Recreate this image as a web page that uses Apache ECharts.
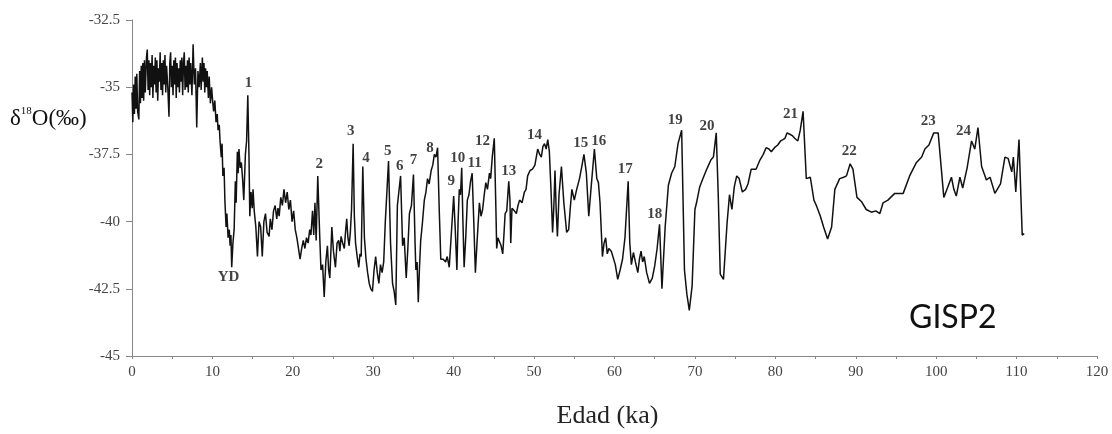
<!DOCTYPE html>
<html>
<head>
<meta charset="utf-8">
<script src="https://cdn.jsdelivr.net/npm/echarts@6/dist/echarts.min.js"></script>
<style>
html,body{margin:0;padding:0;background:#fff;}
#chart{width:1112px;height:434px;}
</style>
</head>
<body>
<div id="chart"></div>
<script>
// Age (ka) and δ18O (‰)
const ageKa = [
0.0,0.1,0.2,0.3,0.4,0.5,0.6,0.7,0.85,0.95,1.05,1.15,1.25,1.35,1.45,1.55,1.65,1.8,1.9,2.0,
2.1,2.2,2.3,2.4,2.5,2.6,2.7,2.8,2.9,3.0,3.1,3.2,3.3,3.4,3.5,3.6,3.7,3.8,3.9,4.0,
4.1,4.2,4.3,4.45,4.6,4.7,4.8,4.9,5.0,5.1,5.2,5.3,5.4,5.5,5.6,5.7,5.8,5.9,6.0,6.1,
6.2,6.3,6.4,6.5,6.6,6.7,6.8,6.9,7.0,7.1,7.2,7.3,7.45,7.6,7.75,7.9,8.05,8.2,8.35,8.5,
8.6,8.75,8.85,8.95,9.05,9.15,9.25,9.35,9.5,9.6,9.75,9.9,10.0,10.15,10.3,10.45,10.6,10.7,10.85,10.95,
11.1,11.2,11.3,11.45,11.55,11.7,11.8,11.95,12.1,12.2,12.3,12.4,12.55,12.7,12.85,12.95,13.1,13.2,13.3,13.45,
13.6,13.75,13.9,14.1,14.25,14.4,14.55,14.65,14.8,14.95,15.05,15.2,15.4,15.6,15.8,16.0,16.2,16.4,16.6,16.8,
17.05,17.2,17.4,17.6,17.8,18.0,18.15,18.3,18.5,18.7,18.9,19.1,19.3,19.5,19.7,19.9,20.1,20.3,20.5,20.7,
20.9,21.1,21.3,21.5,21.7,21.9,22.1,22.25,22.45,22.6,22.75,22.9,23.1,23.35,23.5,23.7,23.9,24.1,24.3,24.45,
24.6,24.85,25.05,25.3,25.5,25.7,25.85,26.0,26.2,26.4,26.55,26.7,26.85,27.0,27.15,27.3,27.5,27.65,27.8,28.0,
28.2,28.35,28.5,28.7,28.9,29.1,29.3,29.5,29.7,29.9,30.1,30.3,30.5,30.7,30.9,31.1,31.3,31.5,31.9,32.15,
32.4,32.6,32.8,33.0,33.4,33.65,33.85,34.1,34.3,34.5,34.75,35.0,35.2,35.3,35.45,35.6,35.75,35.9,36.1,36.35,
36.55,36.75,36.95,37.2,37.4,37.6,37.8,38.0,38.2,38.4,38.7,39.0,39.2,39.45,39.7,40.0,40.2,40.4,40.55,40.7,
40.85,41.0,41.15,41.3,41.5,41.7,41.9,42.1,42.3,42.5,42.7,42.9,43.2,43.4,43.6,43.8,44.0,44.2,44.45,44.6,
44.8,45.05,45.25,45.35,45.5,45.7,45.9,46.1,46.25,46.4,46.6,46.85,47.0,47.1,47.25,47.35,47.55,47.8,48.0,48.2,
48.5,48.8,49.0,49.2,49.5,49.8,50.1,50.45,50.7,50.9,51.1,51.3,51.5,51.7,51.9,52.1,52.3,52.45,52.6,52.75,
52.9,53.1,53.4,53.7,54.05,54.3,54.5,54.7,55.0,55.3,55.65,55.9,56.2,56.5,56.8,57.1,57.5,57.8,58.0,58.2,
58.5,58.7,58.9,59.1,59.3,59.6,59.8,60.1,60.4,60.7,61.0,61.3,61.7,61.9,62.1,62.35,62.6,62.9,63.1,63.3,
63.5,63.7,64.0,64.35,64.7,65.0,65.3,65.6,65.9,66.3,66.7,67.1,67.5,67.9,68.35,68.7,69.0,69.3,69.65,70.0,
70.2,70.6,71.0,71.4,71.7,72.0,72.3,72.65,72.9,73.15,73.55,74.0,74.3,74.6,74.9,75.2,75.5,75.9,76.3,76.6,
77.0,77.6,78.1,78.5,78.85,79.2,79.5,79.9,80.3,80.65,80.95,81.2,81.45,81.8,82.1,82.4,82.8,83.1,83.45,83.85,
84.35,84.8,85.1,85.6,86.0,86.5,87.0,87.4,88.0,88.5,88.85,89.3,89.65,90.15,90.7,91.3,91.95,92.5,93.0,93.4,
94.0,94.85,95.9,96.7,97.55,98.2,98.6,99.1,99.7,100.25,100.95,101.4,101.9,102.2,102.5,102.95,103.3,103.85,104.4,104.8,
105.2,105.65,106.25,106.7,107.3,108.0,108.55,108.95,109.4,109.6,109.9,110.3,110.7,110.95
];
const d18O = [
-35.2,-36.3,-34.9,-36.0,-34.6,-35.8,-34.5,-35.9,-36.2,-34.4,-35.6,-34.2,-35.4,-34.1,-35.5,-34.0,-35.2,-33.9,-33.6,-35.1,
-34.0,-35.3,-34.1,-35.0,-33.8,-35.4,-34.2,-34.9,-33.9,-35.2,-34.0,-35.5,-34.3,-34.8,-33.7,-35.1,-34.1,-35.3,-34.0,-34.9,
-33.8,-35.2,-34.2,-35.0,-36.1,-34.1,-33.7,-35.0,-34.2,-35.3,-34.0,-34.9,-33.9,-35.4,-34.1,-35.0,-34.3,-35.2,-34.0,-34.8,
-33.9,-35.3,-34.1,-33.7,-35.1,-34.2,-35.0,-34.0,-35.2,-33.9,-34.9,-34.1,-35.3,-33.4,-34.9,-34.3,-36.5,-34.4,-35.0,-34.1,
-35.1,-33.9,-34.8,-34.1,-35.2,-34.3,-35.0,-34.4,-35.4,-34.6,-35.6,-35.0,-35.4,-35.9,-35.5,-36.3,-36.0,-36.6,-36.4,-37.0,
-37.6,-37.1,-38.3,-38.0,-39.2,-40.2,-39.7,-40.6,-40.3,-40.9,-40.5,-41.7,-40.8,-40.3,-38.5,-39.3,-37.4,-38.2,-37.3,-38.0,
-37.8,-38.4,-39.2,-37.5,-37.0,-35.3,-37.6,-39.8,-38.9,-39.5,-38.8,-39.6,-40.2,-41.3,-40.0,-40.2,-41.3,-40.0,-39.7,-40.4,
-40.55,-39.9,-40.3,-39.6,-39.4,-39.9,-39.5,-39.8,-39.1,-39.4,-38.8,-39.3,-38.9,-39.55,-39.2,-40.0,-39.6,-40.3,-40.6,-41.0,
-41.4,-41.0,-40.7,-41.0,-40.6,-40.8,-40.3,-40.5,-39.6,-40.5,-39.3,-40.7,-38.3,-40.6,-41.8,-41.6,-42.8,-41.5,-40.9,-41.8,
-42.1,-40.2,-41.1,-41.7,-40.8,-40.7,-41.1,-40.55,-40.8,-41.0,-40.4,-39.9,-40.6,-40.9,-40.4,-39.55,-37.1,-39.8,-40.8,-41.3,
-41.7,-41.2,-41.3,-37.95,-40.6,-41.4,-41.9,-42.3,-42.5,-42.6,-41.8,-41.3,-41.9,-42.3,-41.6,-41.9,-41.5,-40.0,-37.75,-40.8,
-42.3,-42.6,-43.1,-39.4,-38.3,-40.9,-40.6,-42.1,-41.0,-39.7,-39.4,-38.25,-40.8,-41.8,-41.5,-43.0,-41.7,-40.7,-40.1,-39.2,
-38.9,-38.4,-38.6,-38.1,-37.9,-37.5,-37.6,-37.25,-39.5,-41.4,-41.4,-41.5,-41.3,-41.7,-40.5,-39.05,-40.3,-41.8,-40.0,-38.8,
-39.0,-38.0,-40.0,-41.7,-40.6,-39.2,-39.0,-38.5,-38.2,-40.0,-41.9,-40.8,-39.3,-39.8,-39.55,-39.0,-38.55,-38.8,-38.2,-38.4,
-37.6,-36.9,-39.5,-41.0,-40.6,-40.65,-40.9,-41.2,-40.5,-39.7,-39.6,-38.5,-39.2,-40.8,-39.5,-39.55,-39.6,-39.7,-39.4,-39.2,
-39.3,-38.9,-38.8,-38.3,-38.1,-38.05,-37.9,-37.3,-37.5,-37.6,-37.2,-37.1,-37.3,-36.95,-37.4,-38.8,-40.4,-39.5,-38.1,-39.6,
-40.55,-39.0,-37.95,-39.3,-40.4,-40.3,-39.5,-38.8,-39.2,-38.8,-38.4,-38.0,-37.5,-38.2,-39.8,-38.7,-37.3,-38.4,-38.55,-39.3,
-41.3,-40.8,-40.6,-41.2,-41.0,-41.1,-41.15,-41.6,-42.15,-41.8,-41.4,-40.6,-38.5,-40.8,-41.6,-41.15,-41.5,-41.9,-41.4,-41.1,
-41.5,-41.3,-41.9,-42.3,-42.1,-41.65,-41.0,-40.1,-42.5,-40.2,-38.65,-38.2,-37.95,-37.1,-36.6,-41.8,-42.7,-43.3,-42.4,-39.55,
-39.3,-38.7,-38.4,-38.1,-37.9,-37.7,-37.6,-36.7,-39.0,-41.95,-42.15,-40.05,-39.0,-39.55,-38.7,-38.3,-38.4,-38.9,-38.8,-38.6,
-38.05,-38.05,-37.7,-37.5,-37.25,-37.3,-37.4,-37.25,-37.15,-37.0,-36.95,-36.9,-36.7,-36.75,-36.8,-36.9,-37.0,-36.6,-35.9,-38.4,
-38.35,-39.2,-39.4,-39.8,-40.2,-40.65,-40.2,-38.8,-38.4,-38.35,-38.3,-37.85,-38.05,-39.1,-39.25,-39.55,-39.65,-39.6,-39.7,-39.3,
-39.2,-38.95,-38.95,-38.3,-37.8,-37.6,-37.3,-37.15,-36.7,-36.7,-39.1,-38.75,-38.35,-38.8,-39.05,-38.35,-38.75,-38.0,-37.0,-37.3,
-36.5,-37.95,-38.45,-38.35,-38.95,-38.6,-37.6,-37.65,-38.15,-37.6,-38.9,-36.95,-40.5,-40.45
];
// Event labels (interstadials numbered, Younger Dryas) and where they sit
const annoLabels = ['1','YD','2','3','4','5','6','7','8','9','10','11','12','13','14','15','16','17','18','19','20','21','22','23','24'];
const annoAge = [14.5,12.0,23.3,27.2,29.1,31.8,33.3,35.0,37.05,39.7,40.5,42.6,43.6,46.85,50.05,55.8,58.05,61.35,65.0,67.55,71.5,81.9,89.2,99.0,103.4];
const annoVal = [-34.83,-42.08,-37.88,-36.64,-37.63,-37.38,-37.94,-37.72,-37.26,-38.5,-37.63,-37.84,-37.01,-38.13,-36.77,-37.07,-37.01,-38.06,-39.73,-36.23,-36.43,-35.99,-37.38,-36.27,-36.64];
// Axis ranges and ticks
const xMin = 0, xMax = 120, xStep = 5, xLabelStep = 10;
const yMin = -45, yMax = -32.5, yStep = 2.5;

const lineData = ageKa.map((a, i) => [a, d18O[i]]);
const annoData = annoLabels.map((n, i) => ({name: n, value: [annoAge[i], annoVal[i]]}));

const chart = echarts.init(document.getElementById('chart'), null, {renderer: 'canvas'});
const serif = '"Liberation Serif", "DejaVu Serif", serif';
chart.setOption({
  animation: false,
  backgroundColor: '#ffffff',
  title: [
    {
      text: '{a|δ}{s|18}{a|O(‰)}',
      left: 10, top: 106, padding: 0,
      textStyle: {
        fontWeight: 'normal',
        rich: {
          a: {fontFamily: serif, fontSize: 23, fontWeight: 'normal', color: '#111', lineHeight: 26},
          s: {fontFamily: serif, fontSize: 11, fontWeight: 'normal', color: '#111', verticalAlign: 'top', lineHeight: 12}
        }
      }
    },
    {
      text: 'GISP2', left: 909, top: 302, padding: 0,
      textStyle: {fontFamily: 'Lato, "Open Sans", sans-serif', fontSize: 32, fontWeight: 'normal', color: '#111'}
    }
  ],
  grid: {left: 132, right: 15, top: 20, bottom: 77, containLabel: false},
  xAxis: {
    type: 'value', min: xMin, max: xMax, interval: xStep,
    name: 'Edad (ka)', nameLocation: 'middle', nameGap: 47,
    nameTextStyle: {fontFamily: serif, fontSize: 26, color: '#222', padding: [0, 14, 0, 0]},
    axisLine: {show: true, lineStyle: {color: '#888', width: 1}},
    axisTick: {show: true, length: 3, lineStyle: {color: '#888'}},
    axisLabel: {
      fontFamily: serif, fontSize: 15, color: '#444', margin: 9,
      formatter: v => (v % xLabelStep === 0 ? String(v) : '')
    },
    splitLine: {show: false}
  },
  yAxis: {
    type: 'value', min: yMin, max: yMax, interval: yStep,
    axisLine: {show: true, lineStyle: {color: '#888', width: 1}},
    axisTick: {show: true, length: 6, lineStyle: {color: '#888'}},
    axisLabel: {fontFamily: serif, fontSize: 15, color: '#444', margin: 12},
    splitLine: {show: false}
  },
  series: [
    {
      type: 'line', data: lineData, showSymbol: false, symbol: 'none',
      lineStyle: {color: '#111', width: 1.5}, z: 2
    },
    {
      type: 'scatter', data: annoData, symbolSize: 0, silent: true, z: 3,
      label: {
        show: true, position: 'inside', formatter: p => p.name,
        fontFamily: serif, fontSize: 15, fontWeight: 'bold', color: '#111'
      }
    }
  ]
});
</script>
</body>
</html>
